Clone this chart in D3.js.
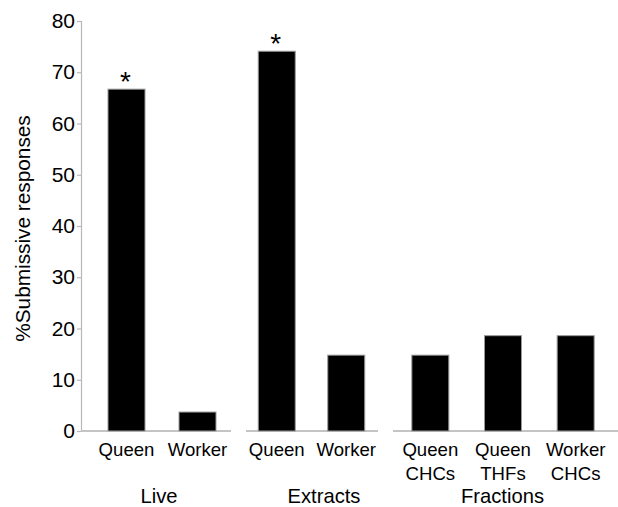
<!DOCTYPE html>
<html>
<head>
<meta charset="utf-8">
<script src="https://cdn.jsdelivr.net/npm/d3@7"></script>
<style>
  html, body { margin: 0; padding: 0; background: #fff; }
  svg text { font-family: "Liberation Sans", Arial, sans-serif; fill: #000; }
</style>
</head>
<body>
<svg id="chart" width="618" height="507"></svg>
<script>
// Percent submissive responses by stimulus, grouped by stimulus type
const groups = ["Live", "Extracts", "Fractions"];
const categories = [
  ["Queen", "Worker"],
  ["Queen", "Worker"],
  ["Queen\nCHCs", "Queen\nTHFs", "Worker\nCHCs"]
];
const values = [
  [66.7, 3.7],
  [74.1, 14.8],
  [14.8, 18.6, 18.6]
];
const significant = [
  [true, false],
  [true, false],
  [false, false, false]
];
const yTicks = [0, 10, 20, 30, 40, 50, 60, 70, 80];

// layout
const axisX = 81;
const y0 = 431, yTop = 21;
const groupRanges = [[91, 233], [242, 381], [394, 612]];
const segmentRanges = [[axisX, 231], [246, 378], [393, 618]];
const groupLabelShift = [3, 12, -3];
const barWidth = 37;

const svg = d3.select("#chart");

const y = d3.scaleLinear().domain([0, 80]).range([y0, yTop]);

// y axis
const yAxis = d3.axisLeft(y).tickValues(yTicks).tickSize(4).tickPadding(2);
const gy = svg.append("g").attr("transform", `translate(${axisX},0)`).call(yAxis);
gy.select(".domain").attr("stroke", "#b8b8b8").attr("stroke-width", 1.2);
gy.selectAll(".tick line").attr("stroke", "#b8b8b8").attr("stroke-width", 1.2);
gy.selectAll(".tick text").attr("font-size", 21).attr("fill", "#000")
  .attr("font-family", "'Liberation Sans', Arial, sans-serif");

svg.append("text")
  .attr("transform", `translate(30,${228.5}) rotate(-90)`)
  .attr("text-anchor", "middle")
  .attr("font-size", 20.8)
  .text("%Submissive responses");

groups.forEach((g, gi) => {
  const x = d3.scalePoint()
    .domain(categories[gi])
    .range(groupRanges[gi])
    .padding(0.5);

  const gg = svg.append("g");

  // baseline segment for the group
  gg.append("line")
    .attr("x1", segmentRanges[gi][0]).attr("x2", segmentRanges[gi][1])
    .attr("y1", y(0)).attr("y2", y(0))
    .attr("stroke", "#c4c4c4").attr("stroke-width", 2.2);

  const data = categories[gi].map((c, i) => ({ c, v: values[gi][i], sig: significant[gi][i] }));

  gg.selectAll("rect.bar").data(data).join("rect")
    .attr("class", "bar")
    .attr("x", d => x(d.c) - barWidth / 2)
    .attr("width", barWidth)
    .attr("y", d => y(d.v))
    .attr("height", d => y(0) - y(d.v))
    .attr("fill", "#000")
    .attr("stroke", "#9a9a9a")
    .attr("stroke-width", 1);

  gg.selectAll("text.sig").data(data.filter(d => d.sig)).join("text")
    .attr("class", "sig")
    .attr("x", d => x(d.c) - 1)
    .attr("y", d => y(d.v) + 2)
    .attr("text-anchor", "middle")
    .attr("font-size", 28)
    .text("*");

  const lbl = gg.selectAll("text.cat").data(data).join("text")
    .attr("class", "cat")
    .attr("text-anchor", "middle")
    .attr("font-size", 18.6);
  lbl.each(function(d) {
    const lines = d.c.split("\n");
    d3.select(this).selectAll("tspan").data(lines).join("tspan")
      .attr("x", x(d.c))
      .attr("y", (l, i) => 456 + i * 23.5)
      .text(l => l);
  });

  gg.append("text")
    .attr("x", (segmentRanges[gi][0] + segmentRanges[gi][1]) / 2 + groupLabelShift[gi])
    .attr("y", 503)
    .attr("text-anchor", "middle")
    .attr("font-size", 20.2)
    .text(g);
});
</script>
</body>
</html>
